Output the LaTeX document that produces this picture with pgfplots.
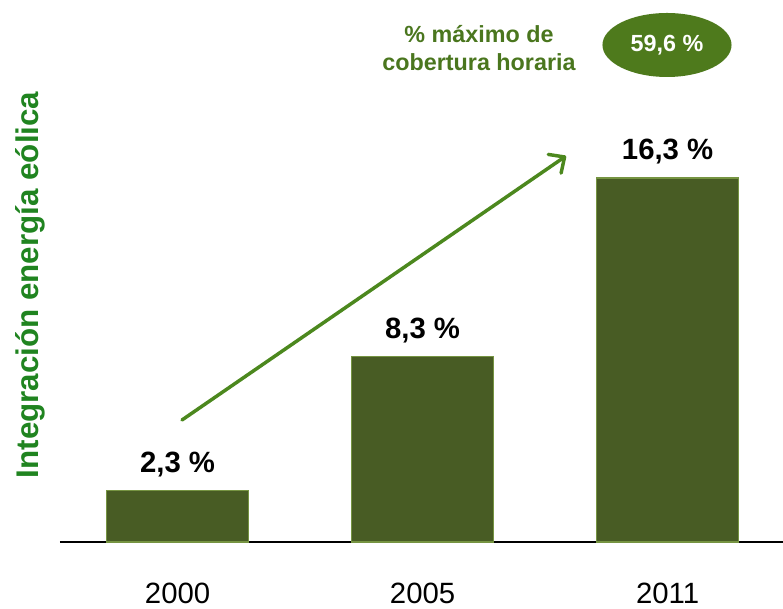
\documentclass[border=0pt]{standalone}
\usepackage{pgfplots}
\pgfplotsset{compat=1.18}
\usepackage{fontspec}
\setmainfont{Liberation Sans}
\usetikzlibrary{arrows.meta}
\definecolor{barc}{RGB}{72,92,36}
\definecolor{barlight}{RGB}{118,148,66}
\definecolor{ylab}{RGB}{32,132,32}
\definecolor{toptxt}{RGB}{74,118,30}
\definecolor{ell}{RGB}{78,122,28}
\definecolor{arr}{RGB}{76,136,30}
\pgfplotstableread{
x y lab
0 2.3 {2,3 \%}
1 8.3 {8,3 \%}
2 16.3 {16,3 \%}
}\datatable
\begin{document}
\begin{tikzpicture}[x=0.75pt,y=0.75pt]
\useasboundingbox (0,0) rectangle (783,609);
\begin{axis}[
  at={(45pt,50.25pt)}, anchor=south west,
  scale only axis, width=542.25pt, height=335pt,
  xmin=-0.48, xmax=2.471, ymin=0, ymax=20,
  axis x line*=bottom, axis y line=none,
  x axis line style={black, line width=1.5pt, -},
  xtick={0,1,2}, xticklabels={2000,2005,2011},
  major tick length=0pt,
  xticklabel style={anchor=center, yshift=-38.5pt, font=\fontsize{22}{22}\selectfont},
  ybar, bar width=106.5pt, bar shift=0pt,
  clip=false,
  nodes near coords, point meta=explicit symbolic,
  nodes near coords style={anchor=center, yshift=19.5pt, font=\bfseries\fontsize{22}{22}\selectfont, text=black},
]
\addplot[fill=barc, draw=barlight, line width=1pt] table[x=x, y=y, meta=lab] {\datatable};
\end{axis}
\node[rotate=90, text=ylab, font=\bfseries\fontsize{23.5}{23.5}\selectfont] at (30,324) {Integración energía eólica};
\node[align=center, text=toptxt, font=\bfseries\fontsize{17.5}{20.5}\selectfont] at (479,561) {\% máximo de\\cobertura horaria};
\fill[ell] (667,564) ellipse [x radius=48.4pt, y radius=24pt];
\node[text=white, font=\bfseries\fontsize{17.5}{17.5}\selectfont] at (667,564) {59,6 \%};
\draw[arr, line width=2.6pt, line cap=round, -{Straight Barb[length=9pt,width=17pt,round]}] (182,189) -- (566,453);
\end{tikzpicture}
\end{document}
